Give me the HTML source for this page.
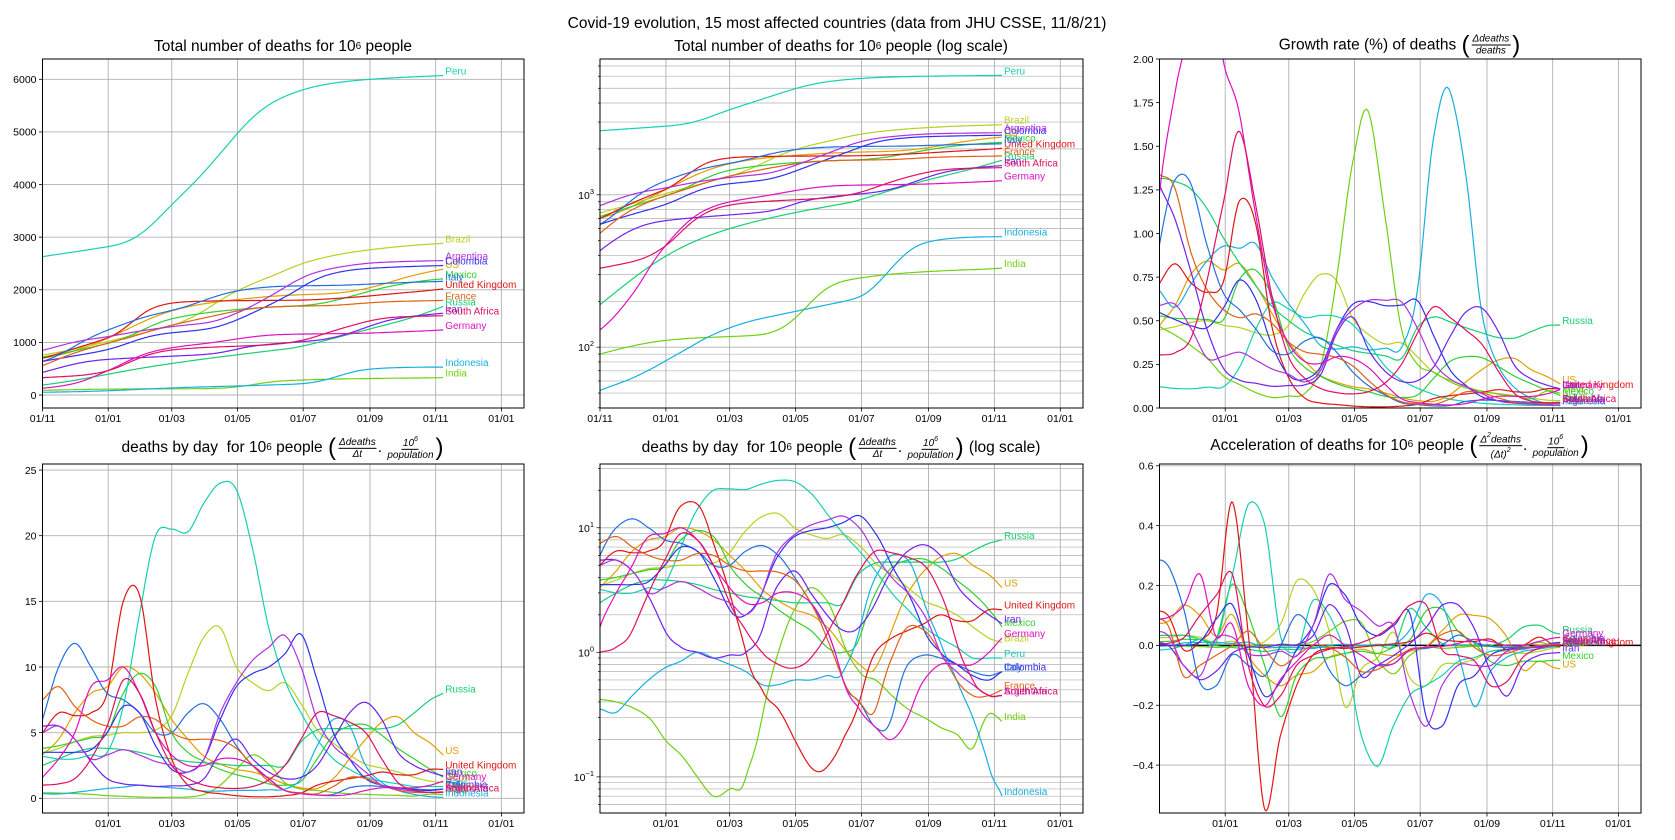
<!DOCTYPE html>
<html><head><meta charset="utf-8">
<style>
html,body{margin:0;padding:0;background:#fff;}
#wrap{position:relative;width:1675px;height:840px;overflow:hidden;font-family:"Liberation Sans","DejaVu Sans",sans-serif;}
.ttl{position:absolute;transform:translate(-50%,-50%);white-space:nowrap;font-size:15.5px;color:#000;display:flex;align-items:center;}
.ttl sup{font-size:10px;position:relative;top:-1px}
.fr{display:inline-flex;flex-direction:column;align-items:center;font-size:10px;font-style:italic;line-height:11px;margin:0 1px;}
.fr .n{border-bottom:1px solid #000;padding:0 1px;}
.par{font-size:24px;font-weight:lighter;margin:0 1px;line-height:20px;}
svg text{font-family:"Liberation Sans","DejaVu Sans",sans-serif;}
</style></head><body>
<div id="wrap">
<svg id="svg" width="1675" height="840" xmlns="http://www.w3.org/2000/svg"></svg>
<div class="ttl" style="left:837px;top:24px">Covid-19 evolution, 15 most affected countries (data from JHU CSSE, 11/8/21)</div>
<div class="ttl" style="left:283px;top:47px">Total number of deaths for 10<sup>6</sup>&nbsp;people</div>
<div class="ttl" style="left:841px;top:47px">Total number of deaths for 10<sup>6</sup>&nbsp;people (log scale)</div>
<div class="ttl" style="left:1400px;top:45px">Growth rate (%) of deaths&nbsp;<span class="par">(</span><span class="fr"><span class="n">Δdeaths</span><span>deaths</span></span><span class="par">)</span></div>
<div class="ttl" style="left:283px;top:448px">deaths by day &nbsp;for 10<sup>6</sup>&nbsp;people&nbsp;<span class="par">(</span><span class="fr"><span class="n">Δdeaths</span><span>Δt</span></span>.&nbsp;<span class="fr"><span class="n">10<sup style="font-size:7px">6</sup></span><span>population</span></span><span class="par">)</span></div>
<div class="ttl" style="left:841px;top:448px">deaths by day &nbsp;for 10<sup>6</sup>&nbsp;people&nbsp;<span class="par">(</span><span class="fr"><span class="n">Δdeaths</span><span>Δt</span></span>.&nbsp;<span class="fr"><span class="n">10<sup style="font-size:7px">6</sup></span><span>population</span></span><span class="par">)</span>&nbsp;(log scale)</div>
<div class="ttl" style="left:1400px;top:446px">Acceleration of deaths for 10<sup>6</sup>&nbsp;people&nbsp;<span class="par">(</span><span class="fr"><span class="n">Δ<sup style="font-size:7px">2</sup>deaths</span><span>(Δt)<sup style="font-size:7px">2</sup></span></span>.&nbsp;<span class="fr"><span class="n">10<sup style="font-size:7px">6</sup></span><span>population</span></span><span class="par">)</span></div>
</div>
<script>
// ---- data (deaths per day per 10^6 people, sampled on the day grid; day 0 = 2020-11-01) ----
const days=[0,15,30,45,60,75,90,105,120,135,150,165,180,195,210,225,240,255,270,285,300,315,330,345,360,372];
const countries=["US","Brazil","India","Mexico","Russia","Peru","Indonesia","United Kingdom","Italy","Colombia","Iran","France","Argentina","Germany","South Africa"];
const colors=["#e0a000","#b8d020","#70d010","#30d030","#15d070","#15d0b0","#15b0e0","#e01515","#2070e0","#3030f0","#7020f0","#e06015","#b030e0","#e010c0","#e01060"];
const initialTotal=[700,760,90,720,190,2630,52,700,640,640,430,560,850,130,330];
const dUS=[3.3,4.5,6.5,8,8.5,10,9.5,8,6,4.5,3.2,2.6,2.2,2,1.6,1.1,0.8,0.75,1.5,3,4.5,5.8,6.2,5,4.2,3.3];
const dBrazil=[3.4,3.8,4.3,4.7,4.8,5,5,5.2,6.3,9.5,12.3,13,10,8.8,8.2,8.8,7.2,5.2,4.2,3.3,2.6,2.3,2.0,1.6,1.3,1.2];
const dIndia=[0.42,0.4,0.36,0.3,0.2,0.15,0.1,0.07,0.08,0.1,0.3,1.0,2.2,3.3,2.6,1.2,0.7,0.6,0.45,0.35,0.3,0.25,0.22,0.17,0.32,0.28];
const dMexico=[3.8,4,4.3,4.6,5,8,9.5,8.5,5,3.5,2.8,2.2,1.8,1.5,1.1,1.0,1.3,3,4.8,5.5,5.6,4.8,3.8,3,2.2,1.6];
const dRussia=[2.5,3,3.5,3.8,3.8,3.7,3.5,3.2,3,2.8,2.7,2.6,2.5,2.5,2.5,2.5,4.3,5.2,5.3,5.3,5.3,5.3,5.6,6.5,7.5,8];
const dPeru=[3.2,3,3,3.3,3.5,7,14,20,20.5,20.3,22.5,24,23.5,19,13,9,6.5,4.5,3,2.2,1.6,1.3,1.1,0.9,0.9,0.9];
const dIndonesia=[0.35,0.33,0.45,0.6,0.75,0.85,1.0,0.9,0.8,0.7,0.55,0.55,0.6,0.6,0.65,0.7,1.5,4,6,5.5,2.5,1.2,0.6,0.3,0.12,0.07];
const dUK=[5,6.5,6.3,6.5,8,15,15.5,7.5,3,1,0.5,0.35,0.2,0.12,0.12,0.2,0.4,1,1.3,1.5,1.7,2,1.8,1.8,2.2,2.2];
const dItaly=[6,10,11.8,10,8,7.5,6.5,5,5,6.5,7.2,6,4,2.5,1.5,0.6,0.4,0.25,0.3,0.8,0.95,0.9,0.8,0.7,0.65,0.7];
const dColombia=[3.5,3.5,3.5,3.7,5,7,6.5,4,2.2,2,3,6,8.5,9.5,10,11,12.5,9,5,3,1.5,1,0.8,0.65,0.6,0.7];
const dIran=[5.5,5.5,4.5,2.8,1.5,1.1,1,0.9,0.95,1,1.5,3.5,4.5,3,2,1.5,1.6,2.5,4.5,6.5,7.3,6,3.5,2.5,2,1.7];
const dFrance=[7.5,8.5,7,6,5.5,5.5,6.2,6,5,4.5,4.5,4.4,3.8,2.5,1.3,0.6,0.4,0.35,0.9,1.6,1.5,1,0.6,0.45,0.45,0.5];
const dArgentina=[5,5.5,4.5,3,3.3,3.7,3.3,2.8,2.5,2,3,6.5,8.8,10.5,11.5,12.4,10,6,4,3,2,1,0.7,0.55,0.45,0.45];
const dGermany=[1.6,3,5,8.5,9,10,8,5,3.3,2.5,2.5,3,3,2.5,1.5,0.6,0.35,0.25,0.2,0.3,0.6,0.8,0.8,0.8,1,1.3];
const dSouthAfrica=[1,1.1,1.5,3,5.5,9,8,5,2.5,1.5,1,0.8,0.75,0.9,1.4,2.5,4.5,6.5,6.3,5.8,5,3,1.2,0.6,0.45,0.45];
const dailySeries=[dUS,dBrazil,dIndia,dMexico,dRussia,dPeru,dIndonesia,dUK,dItaly,dColombia,dIran,dFrance,dArgentina,dGermany,dSouthAfrica];
// ---- tick data ----
const xTickDays=[0,61,120,181,242,304,365,426];
const xTickLabels=["01/11","01/01","01/03","01/05","01/07","01/09","01/11","01/01"];
const totalTicks=[0,1000,2000,3000,4000,5000,6000];
const growthTicks=[0,0.25,0.5,0.75,1.0,1.25,1.5,1.75,2.0];
const dailyTicks=[0,5,10,15,20,25];
const accelTicks=[-0.4,-0.2,0,0.2,0.4,0.6];
const logTotalExps=[2,3];
const logDailyExps=[-1,0,1];

const NS="http://www.w3.org/2000/svg";
const svg=document.getElementById('svg');
function mk(tag,attrs,parent){const e=document.createElementNS(NS,tag);for(const k in attrs)e.setAttribute(k,attrs[k]);(parent||svg).appendChild(e);return e;}

function interp(ys,t){
  const xs=days;let i=0;while(i<xs.length-2&&t>xs[i+1])i++;
  const h=xs[i+1]-xs[i];
  const m=j=>{if(j===0)return (ys[1]-ys[0])/(xs[1]-xs[0]);if(j===xs.length-1)return (ys[j]-ys[j-1])/(xs[j]-xs[j-1]);return (ys[j+1]-ys[j-1])/(xs[j+1]-xs[j-1]);};
  const s=(t-xs[i])/h,s2=s*s,s3=s2*s;
  return (2*s3-3*s2+1)*ys[i]+(s3-2*s2+s)*h*m(i)+(-2*s3+3*s2)*ys[i+1]+(s3-s2)*h*m(i+1);
}
const T=[];for(let t=0;t<=372;t++)T.push(t);
const dailyVals=dailySeries.map(ys=>T.map(t=>Math.max(0.02,interp(ys,t))));
const totalVals=dailyVals.map((dv,c)=>{let acc=initialTotal[c];return dv.map((v,i)=>{if(i>0)acc+=(dv[i-1]+v)/2;return acc;});});
const growthVals=dailyVals.map((dv,c)=>dv.map((v,i)=>v/totalVals[c][i]*100));
const accelVals=dailySeries.map(ys=>T.map(t=>{const a=Math.max(0,t-7),b=Math.min(372,t+7);return (interp(ys,b)-interp(ys,a))/(b-a);}));

const cols=[[42.5,524],[600,1083],[1159.5,1641]];
const rows=[[59,408],[464,813]];
const DAY0=0,DAY1=447;

function panel(opt){
  const [x0,x1]=cols[opt.col],[y0,y1]=rows[opt.row];
  const g=mk('g',{});
  
  
  const X=d=>x0+(d-DAY0)/(DAY1-DAY0)*(x1-x0);
  const Y=opt.log?(v=>y1-(Math.log10(v)-opt.min)/(opt.max-opt.min)*(y1-y0)):(v=>y1-(v-opt.min)/(opt.max-opt.min)*(y1-y0));
  const cid='clip'+opt.name;
  const cp=mk('clipPath',{id:cid},g);mk('rect',{x:x0,y:y0,width:x1-x0,height:y1-y0},cp);
  xTickDays.forEach((d,i)=>{
    if(i===0&&!opt.firstTick)return;
    const gl=mk('line',{x1:X(d),x2:X(d),y1:y0,y2:y1,stroke:'#b0b0b0','stroke-width':0.9},g);
    
    
    mk('line',{x1:X(d),x2:X(d),y1:y1,y2:y1+3.5,stroke:'#000','stroke-width':0.8},g);
    const tx=mk('text',{x:X(d),y:y1+14,'font-size':10.5,'text-anchor':'middle',fill:'#000'},g);
    tx.textContent=xTickLabels[i];
    
    
  });
  if(opt.log){
    for(let e=Math.floor(opt.min);e<=Math.ceil(opt.max);e++){
      for(let k=1;k<10;k++){const v=k*Math.pow(10,e);const lv=Math.log10(v);if(lv<opt.min||lv>opt.max)continue;
        mk('line',{x1:x0,x2:x1,y1:Y(v),y2:Y(v),stroke:'#b0b0b0','stroke-width':k===1?0.9:0.7},g);
        mk('line',{x1:x0-(k===1?3.5:2),x2:x0,y1:Y(v),y2:Y(v),stroke:'#000','stroke-width':0.7},g);}
    }
    opt.exps.forEach(e=>{
      const tx=mk('text',{x:x0-6,y:Y(Math.pow(10,e))+4,'font-size':10.5,'text-anchor':'end',fill:'#000'},g);
      
      
      const a=mk('tspan',{},tx);a.textContent='10';
      const b=mk('tspan',{dy:-5,'font-size':7.5},tx);b.textContent=(e<0?'−':'')+Math.abs(e);
    });
  } else {
    opt.ticks.forEach(v=>{
      if(opt.hgrid){mk('line',{x1:x0,x2:x1,y1:Y(v),y2:Y(v),stroke:'#b0b0b0','stroke-width':0.9},g);}
      mk('line',{x1:x0-3.5,x2:x0,y1:Y(v),y2:Y(v),stroke:'#000','stroke-width':0.8},g);
      const tx=mk('text',{x:x0-6,y:Y(v)+3.8,'font-size':10.5,'text-anchor':'end',fill:'#000'},g);
      tx.textContent=opt.fmt(v);
      
      
    });
  }
  if(opt.zeroLine){const z=mk('line',{x1:x0,x2:x1,y1:Y(0),y2:Y(0),stroke:'#000','stroke-width':1.4},g);
    }
  const lg=mk('g',{'clip-path':'url(#'+cid+')'},g);
  opt.vals.forEach((arr,c)=>{
    let d='';arr.forEach((v,i)=>{if(opt.log)v=Math.max(v,1e-3);d+=(i?'L':'M')+X(T[i]).toFixed(1)+','+Y(v).toFixed(1);});
    const p=mk('path',{d:d,fill:'none',stroke:colors[c],'stroke-width':1.2},lg);
    
    
  });
  opt.vals.forEach((arr,c)=>{
    let v=arr[arr.length-1];const yy=Y(opt.log?Math.max(v,1e-3):v);
    if(yy<y0||yy>y1)return;
    const tx=mk('text',{x:X(372)+2,y:yy-1,'font-size':10,fill:colors[c]},g);
    tx.textContent=countries[c];
    
    
  });
  const fr=mk('rect',{x:x0,y:y0,width:x1-x0,height:y1-y0,fill:'none',stroke:'#000','stroke-width':1},g);
  
  
}
panel({name:'total-deaths-panel',col:0,row:0,min:-247,max:6386,ticks:totalTicks,fmt:v=>String(v),hgrid:true,vals:totalVals,firstTick:true});
panel({name:'total-deaths-log-panel',col:1,row:0,log:true,min:1.601,max:3.891,exps:logTotalExps,vals:totalVals,firstTick:true});
panel({name:'growth-rate-panel',col:2,row:0,min:0,max:2,ticks:growthTicks,fmt:v=>v.toFixed(2),hgrid:false,vals:growthVals});
panel({name:'daily-deaths-panel',col:0,row:1,min:-1.12,max:25.46,ticks:dailyTicks,fmt:v=>String(v),hgrid:true,vals:dailyVals});
panel({name:'daily-deaths-log-panel',col:1,row:1,log:true,min:-1.29,max:1.512,exps:logDailyExps,vals:dailyVals});
panel({name:'acceleration-panel',col:2,row:1,min:-0.56,max:0.606,ticks:accelTicks,fmt:v=>(v<0?'−':'')+Math.abs(v).toFixed(1),hgrid:true,zeroLine:true,vals:accelVals});
</script>
</body></html>
